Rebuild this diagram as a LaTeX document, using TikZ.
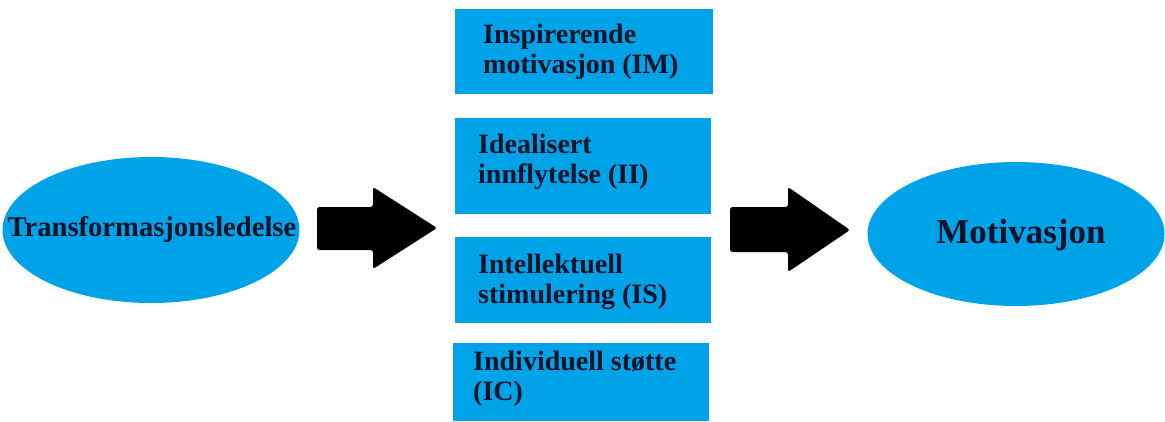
\documentclass[tikz,border=0pt]{standalone}
\usepackage{fontspec}
\setmainfont{Liberation Serif}
\usetikzlibrary{shapes.geometric}
\definecolor{paintblue}{HTML}{00A2E8}
\definecolor{inkdark}{HTML}{0A1228}
\begin{document}
\begin{tikzpicture}[x=1pt,y=-1pt,
  oval/.style={ellipse,fill=paintblue,inner sep=0pt},
  blockbox/.style={rectangle,fill=paintblue,inner sep=0pt,anchor=north west},
  boxtext/.style={anchor=base west,inner sep=0pt,align=left,text=inkdark,
    font=\fontsize{28}{30}\selectfont\bfseries},
  blockarrow/.style={fill=black,rounded corners=2.5pt}]
\useasboundingbox (0,0) rectangle (1165,421);
% ellipses
\node[oval,minimum width=297,minimum height=146] (trans) at (151,230) {};
\node[anchor=base,inner sep=0pt,text=inkdark,font=\fontsize{28.6}{30}\selectfont\bfseries] (transtxt) at (152,236) {Transformasjonsledelse};
\node[oval,minimum width=297,minimum height=144] (mot) at (1016,234) {};
\node[anchor=base,inner sep=0pt,text=inkdark,font=\fontsize{35}{36}\selectfont\bfseries] (mottxt) at (1021,243) {Motivasjon};
% boxes
\node[blockbox,minimum width=258,minimum height=85] (im) at (455,9) {};
\node[blockbox,minimum width=256,minimum height=96] (ii) at (455,118) {};
\node[blockbox,minimum width=256,minimum height=86] (is) at (455,237) {};
\node[blockbox,minimum width=256,minimum height=78] (ic) at (453,343) {};
% base = baseline of the last line
\node[boxtext] (imtxt) at (483,73) {Inspirerende\\motivasjon (IM)};
\node[boxtext] (iitxt) at (478,183) {Idealisert\\innflytelse (II)};
\node[boxtext] (istxt) at (478,303) {Intellektuell\\stimulering (IS)};
\node[boxtext] (ictxt) at (473,400) {Individuell støtte\\(IC)};
% block arrows
\fill[blockarrow] (317,207) -- (373,207) -- (373,187) -- (437,228) -- (373,269) -- (373,250) -- (317,250) -- cycle;
\fill[blockarrow] (730,207) -- (788,207) -- (788,187) -- (850,230) -- (788,272) -- (788,252) -- (730,252) -- cycle;
\end{tikzpicture}
\end{document}
